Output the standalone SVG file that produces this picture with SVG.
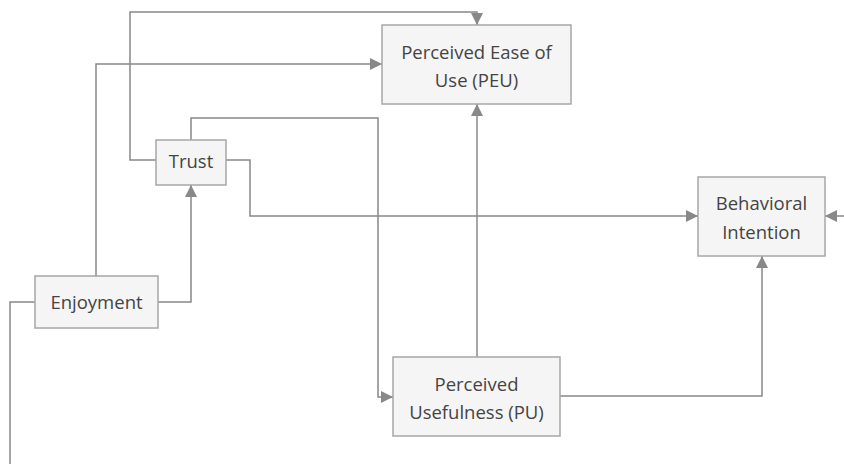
<svg xmlns="http://www.w3.org/2000/svg" width="844" height="464" viewBox="0 0 844 464">
<style>
.box{fill:#f5f5f5;stroke:#a6a6a6;stroke-width:1.5}
.lbl{font-family:"Open Sans","Noto Sans",sans-serif;font-size:18.5px;fill:#444444;text-anchor:middle}
.edge{fill:none;stroke:#888888;stroke-width:1.5}
</style>
<defs>
<marker id="arr" viewBox="0 0 10 10" refX="10" refY="5" markerWidth="12" markerHeight="12" markerUnits="userSpaceOnUse" orient="auto">
<path d="M0,0 L10,5 L0,10 z" fill="#888888"/>
</marker>
</defs>
<rect width="844" height="464" fill="#ffffff"/>
<g id="connectors">
<path class="edge" d="M156,160 H130 V12 H477 V25" marker-end="url(#arr)"/>
<path class="edge" d="M96,276 V64 H382" marker-end="url(#arr)"/>
<path class="edge" d="M191,140 V118 H378 V397 H393" marker-end="url(#arr)"/>
<path class="edge" d="M226,160 H250 V216 H698" marker-end="url(#arr)"/>
<path class="edge" d="M158,302 H191 V185" marker-end="url(#arr)"/>
<path class="edge" d="M477,357 V104" marker-end="url(#arr)"/>
<path class="edge" d="M560,396 H762 V256" marker-end="url(#arr)"/>
<path class="edge" d="M844,216 H825" marker-end="url(#arr)"/>
<path class="edge" d="M35,302 H10 V464"/>
</g>
<g id="peu">
<rect class="box" x="382" y="25" width="189" height="79"/>
<text class="lbl" x="476.5" y="58.5">Perceived Ease of</text>
<text class="lbl" x="476.5" y="86.5">Use (PEU)</text>
</g>
<g id="trust">
<rect class="box" x="156" y="140" width="70" height="45"/>
<text class="lbl" x="191" y="168">Trust</text>
</g>
<g id="enjoyment">
<rect class="box" x="35" y="276" width="123" height="52"/>
<text class="lbl" x="96.5" y="308.5">Enjoyment</text>
</g>
<g id="bi">
<rect class="box" x="698" y="177" width="127" height="79"/>
<text class="lbl" x="761.5" y="209.5">Behavioral</text>
<text class="lbl" x="761.5" y="238.5">Intention</text>
</g>
<g id="pu">
<rect class="box" x="393" y="357" width="167" height="79"/>
<text class="lbl" x="476.5" y="390.5">Perceived</text>
<text class="lbl" x="476.5" y="418.5">Usefulness (PU)</text>
</g>
</svg>
